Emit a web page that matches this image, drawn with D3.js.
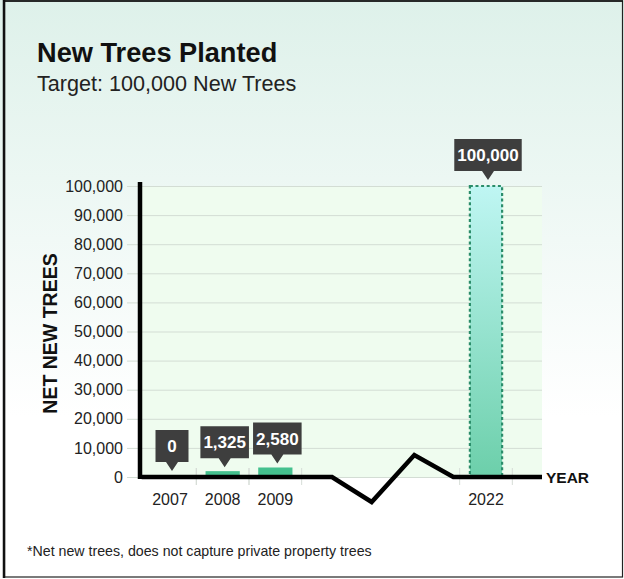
<!DOCTYPE html>
<html>
<head>
<meta charset="utf-8">
<script src="https://cdn.jsdelivr.net/npm/d3@7"></script>
<style>
  html, body { margin: 0; padding: 0; background: #fff; }
  svg { display: block; font-family: "Liberation Sans", Arial, sans-serif; }
</style>
</head>
<body>
<svg id="chart" width="624" height="579"></svg>
<script>
// Planting record and target
const years = ["2007", "2008", "2009", "2022"];
const treesPlanted = [0, 1325, 2580, 100000];
const isTarget = [false, false, false, true];

// Horizontal slots along the year axis; the three "gap" slots hold the axis break
const slots = ["2007", "2008", "2009", "gap1", "gap2", "gap3", "2022"];

const yTicks = [0, 10000, 20000, 30000, 40000, 50000, 60000, 70000, 80000, 90000, 100000];

const W = 624, H = 579;
const plot = { left: 140, right: 542, top: 186, bottom: 477 };

const svg = d3.select("#chart");
const defs = svg.append("defs");

const bgGrad = defs.append("linearGradient").attr("id", "bg").attr("x1", 0).attr("y1", 0).attr("x2", 0).attr("y2", 1);
bgGrad.append("stop").attr("offset", "0%").attr("stop-color", "#def1ea");
bgGrad.append("stop").attr("offset", "72%").attr("stop-color", "#ffffff");

const targetGrad = defs.append("linearGradient").attr("id", "targetFill").attr("x1", 0).attr("y1", 0).attr("x2", 0).attr("y2", 1);
targetGrad.append("stop").attr("offset", "0%").attr("stop-color", "#bff6f3");
targetGrad.append("stop").attr("offset", "100%").attr("stop-color", "#6ccfaa");

// Page background and frame
svg.append("rect").attr("x", 0).attr("y", 0).attr("width", W).attr("height", H).attr("fill", "url(#bg)");
svg.append("rect").attr("x", 4.5).attr("y", 1).attr("width", W - 6).attr("height", H - 3)
  .attr("fill", "none").attr("stroke", "#222").attr("stroke-width", 1.2);
svg.append("line").attr("x1", 4).attr("x2", 4).attr("y1", 0).attr("y2", H - 1)
  .attr("stroke", "#111").attr("stroke-width", 2.5);
svg.append("line").attr("x1", 3).attr("x2", W - 1).attr("y1", 1).attr("y2", 1)
  .attr("stroke", "#111").attr("stroke-width", 1.6);

// Titles
svg.append("text").attr("x", 37).attr("y", 62)
  .attr("font-size", 27.2).attr("font-weight", "bold").attr("fill", "#111")
  .text("New Trees Planted");
svg.append("text").attr("x", 37).attr("y", 91)
  .attr("font-size", 21.6).attr("fill", "#222")
  .text("Target: 100,000 New Trees");

// Scales
const x = d3.scalePoint().domain(slots).range([170, 486]);
const step = x.step();
const barW = step * 0.65;
const y = d3.scaleLinear().domain([0, 100000]).range([plot.bottom, plot.top]);

// Plot background
svg.append("rect").attr("x", plot.left).attr("y", plot.top)
  .attr("width", plot.right - plot.left).attr("height", plot.bottom - plot.top)
  .attr("fill", "#effcef");

// Gridlines and y tick labels
const yAxis = svg.append("g").attr("transform", `translate(127,0)`)
  .call(d3.axisLeft(y).tickValues(yTicks).tickFormat(d3.format(",")).tickSize(-(plot.right - 127)).tickPadding(4));
yAxis.select(".domain").remove();
yAxis.selectAll(".tick line").attr("stroke", "#d3ddd4").attr("stroke-width", 1);
yAxis.selectAll(".tick text").attr("font-size", 16).attr("fill", "#222")
  .attr("font-family", "\"Liberation Sans\", Arial, sans-serif");

// Y axis title
svg.append("text")
  .attr("transform", `translate(57,${(plot.top + plot.bottom) / 2 + 2}) rotate(-90)`)
  .attr("text-anchor", "middle").attr("font-size", 19.5).attr("font-weight", "bold").attr("fill", "#111")
  .text("NET NEW TREES");

// Small separators between year slots, below the axis
const sepXs = [];
years.forEach(yr => {
  if (yr !== "2007") sepXs.push(x(yr) - step / 2);
  sepXs.push(x(yr) + step / 2);
});
svg.append("g").selectAll("line").data(sepXs).join("line")
  .attr("x1", d => d).attr("x2", d => d).attr("y1", plot.bottom - 9).attr("y2", plot.bottom + 8)
  .attr("stroke", "#d6ddd7").attr("stroke-width", 1);

// Bars
const data = years.map((yr, i) => ({ year: yr, value: treesPlanted[i], target: isTarget[i] }));

svg.append("g").selectAll("rect").data(data.filter(d => !d.target && d.value > 0)).join("rect")
  .attr("x", d => x(d.year) - barW / 2).attr("width", barW)
  .attr("y", d => y(d.value) - 2).attr("height", d => plot.bottom - y(d.value) + 2)
  .attr("fill", "#44c08e");

svg.append("g").selectAll("rect").data(data.filter(d => d.target)).join("rect")
  .attr("x", d => x(d.year) - barW / 2 + 1).attr("width", barW - 2)
  .attr("y", d => y(d.value)).attr("height", d => plot.bottom - y(d.value))
  .attr("fill", "url(#targetFill)")
  .attr("stroke", "#2b8d6a").attr("stroke-width", 2.2).attr("stroke-dasharray", "3,2.6");

// Axes lines: y axis and x axis with a break
svg.append("line").attr("x1", plot.left).attr("x2", plot.left).attr("y1", plot.top - 4).attr("y2", plot.bottom + 2)
  .attr("stroke", "#000").attr("stroke-width", 4.5);

const breakPts = [
  [x("2007") - step / 2 - 2, 0],
  [x("gap1") + 4, 0],
  [x("gap2") - 9, 25],
  [x("gap3") - 19, -22],
  [x("gap3") + 20, 0],
  [plot.right, 0]
];
svg.append("path")
  .attr("d", d3.line()(breakPts.map(p => [p[0], plot.bottom + p[1]])))
  .attr("fill", "none").attr("stroke", "#000").attr("stroke-width", 4.5).attr("stroke-linejoin", "miter");

svg.append("text").attr("x", plot.right + 4).attr("y", plot.bottom + 6)
  .attr("font-size", 15.5).attr("font-weight", "bold").attr("fill", "#111").text("YEAR");

// Year labels
svg.append("g").selectAll("text").data(years).join("text")
  .attr("x", d => x(d)).attr("y", plot.bottom + 28)
  .attr("text-anchor", "middle").attr("font-size", 16).attr("fill", "#222")
  .text(d => d);

// Value callouts
const fmt = d3.format(",");
const callouts = svg.append("g").selectAll("g").data(data).join("g")
  .attr("transform", d => `translate(${x(d.year) + 2},${y(d.value) - 6})`);
callouts.each(function(d) {
  const g = d3.select(this);
  const label = g.append("text").attr("text-anchor", "middle").attr("font-size", 17)
    .attr("font-weight", "bold").attr("fill", "#fff").text(fmt(d.value));
  const tw = label.node().getComputedTextLength();
  const bw = Math.max(33, tw + 6), bh = 32, th = 9;
  g.insert("path", "text")
    .attr("d", `M${-bw / 2},${-th - bh} H${bw / 2} V${-th} H6 L0,0 L-6,${-th} H${-bw / 2} Z`)
    .attr("fill", "#3e3e3e");
  label.attr("y", -th - bh / 2).attr("dy", "0.36em");
});

// Footnote
svg.append("text").attr("x", 27).attr("y", 556)
  .attr("font-size", 14.2).attr("fill", "#222")
  .text("*Net new trees, does not capture private property trees");
</script>
</body>
</html>
